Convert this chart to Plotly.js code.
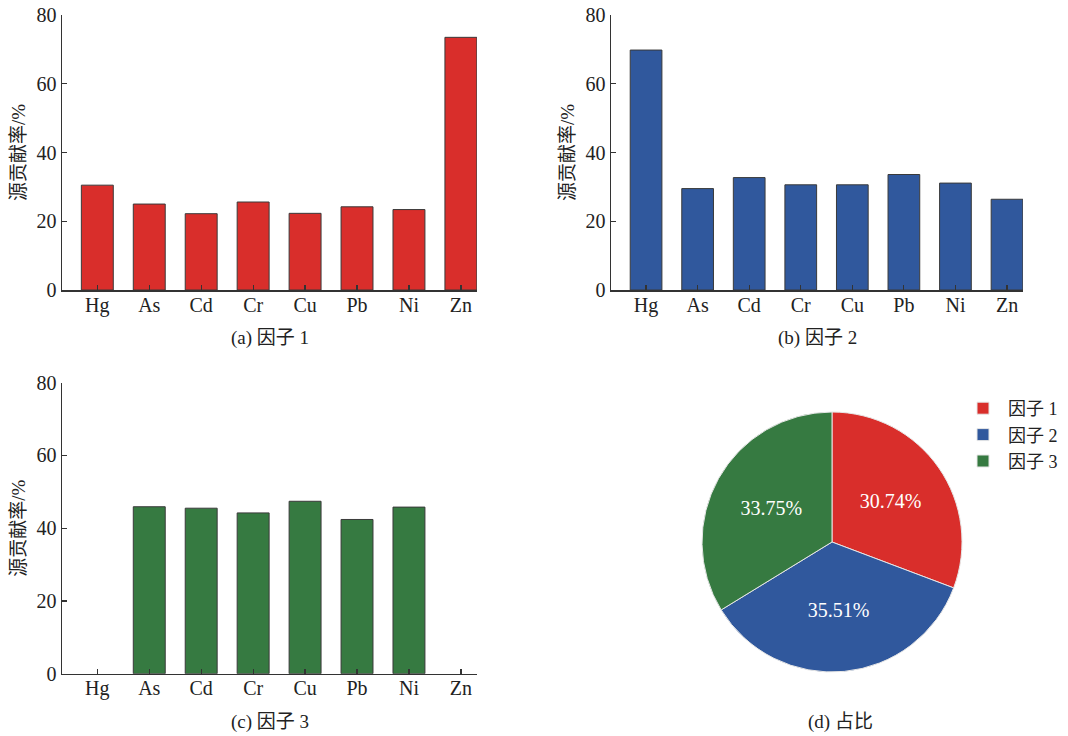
<!DOCTYPE html>
<html>
<head>
<meta charset="utf-8">
<script src="https://cdn.plot.ly/plotly-3.0.1.min.js"></script>
<style>html,body{margin:0;padding:0;background:#fff;}#chart{width:1068px;height:736px;}</style>
</head>
<body>
<div id="chart"></div>
<script>
const elements = ["Hg", "As", "Cd", "Cr", "Cu", "Pb", "Ni", "Zn"];
const factor1 = [30.5, 25.0, 22.2, 25.6, 22.3, 24.2, 23.4, 73.5];
const factor2 = [69.8, 29.5, 32.7, 30.6, 30.6, 33.6, 31.1, 26.4];
const factor3 = [null, 45.9, 45.5, 44.2, 47.4, 42.4, 45.8, null];
const pieLabels = ["因子 1", "因子 2", "因子 3"];
const pieValues = [30.74, 35.51, 33.75];
const captions = ["(a) 因子 1", "(b) 因子 2", "(c) 因子 3", "(d) 占比"];
const yTitle = "源贡献率/%";
const yTicks = [0, 20, 40, 60, 80];

const colRed = "#D92E2B", colBlue = "#30589D", colGreen = "#367A41";
const FONT = "Liberation Serif, 'Times New Roman', 'Noto Sans CJK SC', serif";
const W = 1068, H = 736;
const fx = p => p / W, fy = p => 1 - p / H;

function bar(y, color, xa, ya) {
  return {
    type: "bar", x: elements, y: y, xaxis: xa, yaxis: ya,
    marker: {color: color, line: {color: "#3a3a3a", width: 1}},
    showlegend: false, hoverinfo: "x+y"
  };
}

const traces = [
  bar(factor1, colRed, "x", "y"),
  bar(factor2, colBlue, "x2", "y2"),
  bar(factor3, colGreen, "x3", "y3"),
  {
    type: "pie", labels: pieLabels, values: pieValues,
    marker: {colors: [colRed, colBlue, colGreen], line: {color: "#e6e6e6", width: 1}},
    sort: false, direction: "clockwise", rotation: 0,
    texttemplate: "%{value:.2f}%", textposition: "inside",
    insidetextfont: {color: "#ffffff", size: 20, family: FONT},
    domain: {x: [fx(702), fx(962)], y: [fy(672), fy(412)]},
    showlegend: true
  }
];

function xax(d) {
  return {
    domain: d, range: [-0.68, 7.31], type: "category",
    showline: true, linecolor: "#333", linewidth: 1.5,
    ticks: "inside", ticklen: 5, tickcolor: "#333", tickwidth: 1.2,
    tickfont: {family: FONT, size: 20, color: "#222"},
    ticklabelstandoff: -4,
    showgrid: false, zeroline: false, fixedrange: true, layer: "above traces"
  };
}
function yax(d, anchor) {
  return {
    domain: d, range: [0, 80], anchor: anchor,
    tickvals: yTicks, ticktext: yTicks.map(String),
    showline: true, linecolor: "#333", linewidth: 1.5,
    ticks: "inside", ticklen: 5, tickcolor: "#333", tickwidth: 1.2,
    tickfont: {family: FONT, size: 20, color: "#222"},
    showgrid: false, zeroline: false, fixedrange: true,
    title: {text: yTitle, font: {family: FONT, size: 19, color: "#222"}, standoff: 6}
  };
}

function cap(text, x, y) {
  return {text: text, x: fx(x), y: fy(y), xref: "paper", yref: "paper",
    xanchor: "center", yanchor: "middle", showarrow: false,
    font: {family: FONT, size: 19, color: "#222"}};
}

const layout = {
  width: W, height: H,
  margin: {l: 0, r: 0, t: 0, b: 0},
  paper_bgcolor: "#fff", plot_bgcolor: "#fff",
  font: {family: FONT, color: "#222"},
  bargap: 0.385,
  xaxis: Object.assign(xax([fx(62), fx(477)]), {anchor: "y"}),
  yaxis: yax([fy(290), fy(15)], "x"),
  xaxis2: Object.assign(xax([fx(611), fx(1023)]), {anchor: "y2"}),
  yaxis2: yax([fy(290), fy(15)], "x2"),
  xaxis3: Object.assign(xax([fx(62), fx(477)]), {anchor: "y3"}),
  yaxis3: yax([fy(673.7), fy(382.7)], "x3"),
  legend: {
    x: fx(958), y: fy(390), xanchor: "left", yanchor: "top",
    font: {family: FONT, size: 18, color: "#222"},
    tracegroupgap: 0, itemwidth: 40, bgcolor: "rgba(0,0,0,0)"
  },
  annotations: [
    cap(captions[0], 270, 338),
    cap(captions[1], 817, 338),
    cap(captions[2], 270, 722),
    cap(captions[3], 840, 722)
  ]
};

Plotly.newPlot("chart", traces, layout, {displayModeBar: false, staticPlot: true});
</script>
</body>
</html>
